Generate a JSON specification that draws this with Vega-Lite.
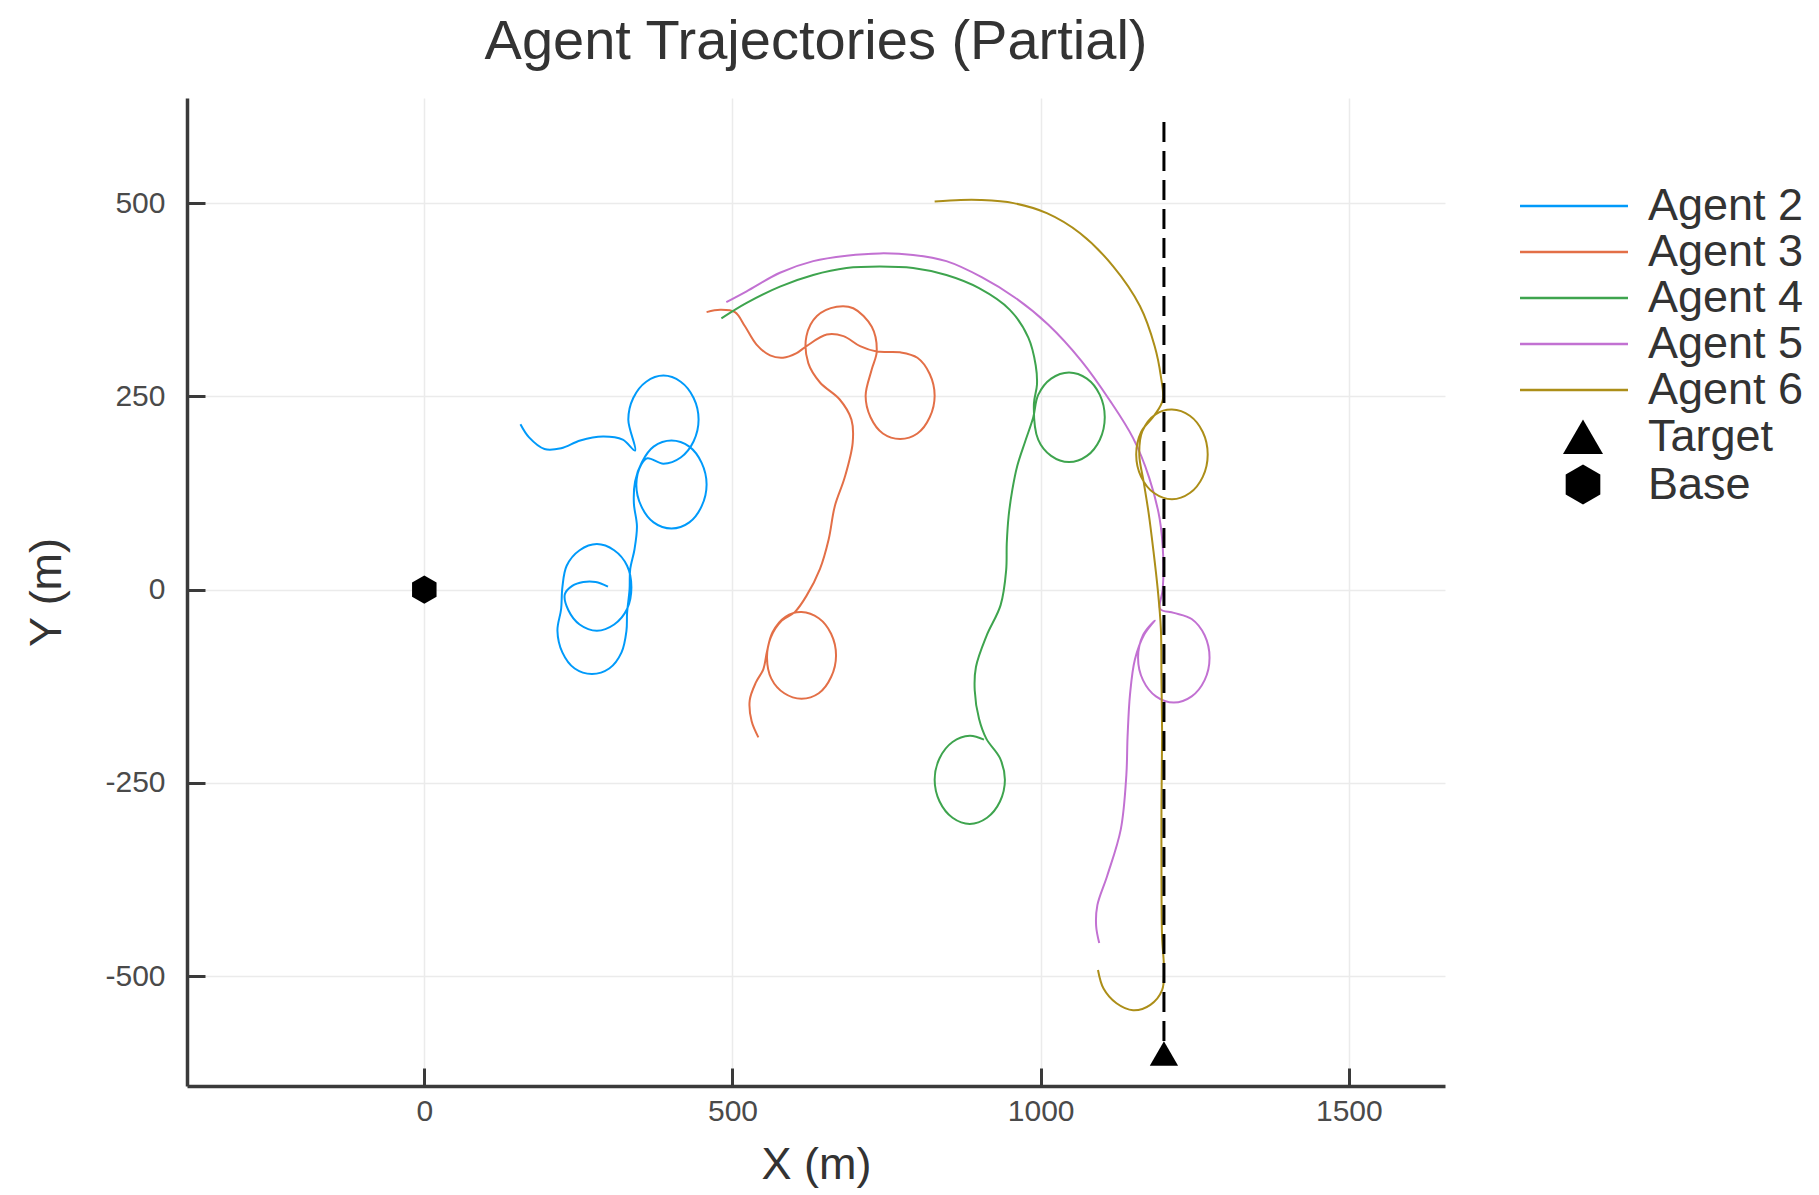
{
  "$schema": "https://vega.github.io/schema/vega-lite/v6.json",
  "width": 1258,
  "height": 988,
  "autosize": {"type": "none"},
  "padding": {"left": 187, "top": 98, "right": 374, "bottom": 109},
  "background": "white",
  "config": {"view": {"stroke": null}, "font": "Liberation Sans"},
  "title": {"text": "Agent Trajectories (Partial)", "fontSize": 56, "fontWeight": "normal", "color": "#333333", "anchor": "middle", "baseline": "alphabetic", "offset": -17, "frame": "group"},
  "datasets": {
    "agents": [
      {"agent":"Agent 2","i":1,"x":156,"y":214},{"agent":"Agent 2","i":2,"x":170,"y":197},{"agent":"Agent 2","i":3,"x":195,"y":182},{"agent":"Agent 2","i":4,"x":222,"y":183},{"agent":"Agent 2","i":5,"x":253,"y":193},{"agent":"Agent 2","i":6,"x":290,"y":198},{"agent":"Agent 2","i":7,"x":322,"y":194},{"agent":"Agent 2","i":8,"x":342,"y":180},
      {"agent":"Agent 2","i":9,"x":331,"y":220},{"agent":"Agent 2","i":10,"x":339,"y":248},{"agent":"Agent 2","i":11,"x":360,"y":269},{"agent":"Agent 2","i":12,"x":388,"y":277},{"agent":"Agent 2","i":13,"x":416,"y":269},{"agent":"Agent 2","i":14,"x":437,"y":248},{"agent":"Agent 2","i":15,"x":445,"y":220},{"agent":"Agent 2","i":16,"x":437,"y":192},{"agent":"Agent 2","i":17,"x":416,"y":171},{"agent":"Agent 2","i":18,"x":388,"y":163},{"agent":"Agent 2","i":19,"x":362,"y":170},{"agent":"Agent 2","i":20,"x":352,"y":162},
      {"agent":"Agent 2","i":21,"x":344,"y":136},{"agent":"Agent 2","i":22,"x":352,"y":108},{"agent":"Agent 2","i":23,"x":372,"y":87},{"agent":"Agent 2","i":24,"x":401,"y":79},{"agent":"Agent 2","i":25,"x":430,"y":87},{"agent":"Agent 2","i":26,"x":450,"y":108},{"agent":"Agent 2","i":27,"x":458,"y":136},{"agent":"Agent 2","i":28,"x":450,"y":164},{"agent":"Agent 2","i":29,"x":430,"y":185},{"agent":"Agent 2","i":30,"x":401,"y":193},{"agent":"Agent 2","i":31,"x":372,"y":185},{"agent":"Agent 2","i":32,"x":353,"y":165},
      {"agent":"Agent 2","i":33,"x":342,"y":140},{"agent":"Agent 2","i":34,"x":340,"y":112},{"agent":"Agent 2","i":35,"x":345,"y":82},{"agent":"Agent 2","i":36,"x":341,"y":52},{"agent":"Agent 2","i":37,"x":334,"y":26},{"agent":"Agent 2","i":38,"x":333,"y":0},{"agent":"Agent 2","i":39,"x":329,"y":-30},
      {"agent":"Agent 2","i":40,"x":328,"y":-53},{"agent":"Agent 2","i":41,"x":320,"y":-81},{"agent":"Agent 2","i":42,"x":300,"y":-102},{"agent":"Agent 2","i":43,"x":272,"y":-109},{"agent":"Agent 2","i":44,"x":244,"y":-102},{"agent":"Agent 2","i":45,"x":224,"y":-81},{"agent":"Agent 2","i":46,"x":216,"y":-53},{"agent":"Agent 2","i":47,"x":222,"y":-25},
      {"agent":"Agent 2","i":48,"x":224,"y":3},{"agent":"Agent 2","i":49,"x":231,"y":31},{"agent":"Agent 2","i":50,"x":252,"y":51},{"agent":"Agent 2","i":51,"x":280,"y":59},{"agent":"Agent 2","i":52,"x":308,"y":51},{"agent":"Agent 2","i":53,"x":329,"y":31},{"agent":"Agent 2","i":54,"x":336,"y":3},{"agent":"Agent 2","i":55,"x":329,"y":-25},{"agent":"Agent 2","i":56,"x":308,"y":-45},{"agent":"Agent 2","i":57,"x":280,"y":-53},{"agent":"Agent 2","i":58,"x":252,"y":-45},{"agent":"Agent 2","i":59,"x":234,"y":-27},{"agent":"Agent 2","i":60,"x":228,"y":-6},{"agent":"Agent 2","i":61,"x":240,"y":5},{"agent":"Agent 2","i":62,"x":258,"y":10},{"agent":"Agent 2","i":63,"x":278,"y":10},{"agent":"Agent 2","i":64,"x":298,"y":4},

      {"agent":"Agent 3","i":1,"x":458,"y":359},{"agent":"Agent 3","i":2,"x":480,"y":362},{"agent":"Agent 3","i":3,"x":504,"y":359},{"agent":"Agent 3","i":4,"x":520,"y":341},{"agent":"Agent 3","i":5,"x":539,"y":317},{"agent":"Agent 3","i":6,"x":561,"y":303},{"agent":"Agent 3","i":7,"x":582,"y":300},{"agent":"Agent 3","i":8,"x":604,"y":306},{"agent":"Agent 3","i":9,"x":620,"y":315},{"agent":"Agent 3","i":10,"x":653,"y":330},{"agent":"Agent 3","i":11,"x":680,"y":328},{"agent":"Agent 3","i":12,"x":707,"y":315},{"agent":"Agent 3","i":13,"x":734,"y":308},
      {"agent":"Agent 3","i":14,"x":772,"y":307},{"agent":"Agent 3","i":15,"x":800,"y":300},{"agent":"Agent 3","i":16,"x":820,"y":279},{"agent":"Agent 3","i":17,"x":828,"y":251},{"agent":"Agent 3","i":18,"x":820,"y":223},{"agent":"Agent 3","i":19,"x":800,"y":202},{"agent":"Agent 3","i":20,"x":772,"y":195},{"agent":"Agent 3","i":21,"x":744,"y":202},{"agent":"Agent 3","i":22,"x":724,"y":223},{"agent":"Agent 3","i":23,"x":716,"y":251},{"agent":"Agent 3","i":24,"x":726,"y":285},{"agent":"Agent 3","i":25,"x":734,"y":308},
      {"agent":"Agent 3","i":26,"x":726,"y":340},{"agent":"Agent 3","i":27,"x":696,"y":364},{"agent":"Agent 3","i":28,"x":669,"y":366},{"agent":"Agent 3","i":29,"x":637,"y":354},{"agent":"Agent 3","i":30,"x":620,"y":328},{"agent":"Agent 3","i":31,"x":623,"y":293},{"agent":"Agent 3","i":32,"x":642,"y":268},{"agent":"Agent 3","i":33,"x":674,"y":246},{"agent":"Agent 3","i":34,"x":693,"y":220},{"agent":"Agent 3","i":35,"x":695,"y":190},{"agent":"Agent 3","i":36,"x":682,"y":145},{"agent":"Agent 3","i":37,"x":666,"y":108},{"agent":"Agent 3","i":38,"x":656,"y":65},{"agent":"Agent 3","i":39,"x":642,"y":27},{"agent":"Agent 3","i":40,"x":620,"y":-8},{"agent":"Agent 3","i":41,"x":601,"y":-29},
      {"agent":"Agent 3","i":42,"x":580,"y":-40},{"agent":"Agent 3","i":43,"x":562,"y":-62},{"agent":"Agent 3","i":44,"x":556,"y":-88},{"agent":"Agent 3","i":45,"x":563,"y":-115},{"agent":"Agent 3","i":46,"x":584,"y":-134},{"agent":"Agent 3","i":47,"x":612,"y":-141},{"agent":"Agent 3","i":48,"x":640,"y":-134},{"agent":"Agent 3","i":49,"x":660,"y":-113},{"agent":"Agent 3","i":50,"x":668,"y":-85},{"agent":"Agent 3","i":51,"x":660,"y":-57},{"agent":"Agent 3","i":52,"x":640,"y":-37},{"agent":"Agent 3","i":53,"x":612,"y":-29},{"agent":"Agent 3","i":54,"x":586,"y":-35},{"agent":"Agent 3","i":55,"x":565,"y":-55},{"agent":"Agent 3","i":56,"x":556,"y":-80},{"agent":"Agent 3","i":57,"x":550,"y":-103},{"agent":"Agent 3","i":58,"x":538,"y":-120},{"agent":"Agent 3","i":59,"x":528,"y":-143},{"agent":"Agent 3","i":60,"x":531,"y":-170},{"agent":"Agent 3","i":61,"x":542,"y":-191},

      {"agent":"Agent 4","i":1,"x":482,"y":351},{"agent":"Agent 4","i":2,"x":523,"y":371},{"agent":"Agent 4","i":3,"x":577,"y":392},{"agent":"Agent 4","i":4,"x":631,"y":407},{"agent":"Agent 4","i":5,"x":685,"y":416},{"agent":"Agent 4","i":6,"x":739,"y":418},{"agent":"Agent 4","i":7,"x":793,"y":416},{"agent":"Agent 4","i":8,"x":847,"y":407},{"agent":"Agent 4","i":9,"x":900,"y":390},{"agent":"Agent 4","i":10,"x":950,"y":362},{"agent":"Agent 4","i":11,"x":980,"y":326},{"agent":"Agent 4","i":12,"x":992,"y":290},{"agent":"Agent 4","i":13,"x":994,"y":265},{"agent":"Agent 4","i":14,"x":989,"y":240},
      {"agent":"Agent 4","i":15,"x":996,"y":194},{"agent":"Agent 4","i":16,"x":1017,"y":173},{"agent":"Agent 4","i":17,"x":1046,"y":165},{"agent":"Agent 4","i":18,"x":1075,"y":173},{"agent":"Agent 4","i":19,"x":1096,"y":194},{"agent":"Agent 4","i":20,"x":1104,"y":223},{"agent":"Agent 4","i":21,"x":1096,"y":252},{"agent":"Agent 4","i":22,"x":1075,"y":273},{"agent":"Agent 4","i":23,"x":1046,"y":281},{"agent":"Agent 4","i":24,"x":1017,"y":273},{"agent":"Agent 4","i":25,"x":996,"y":252},{"agent":"Agent 4","i":26,"x":988,"y":223},
      {"agent":"Agent 4","i":27,"x":975,"y":192},{"agent":"Agent 4","i":28,"x":962,"y":160},{"agent":"Agent 4","i":29,"x":954,"y":129},{"agent":"Agent 4","i":30,"x":948,"y":95},{"agent":"Agent 4","i":31,"x":945,"y":60},{"agent":"Agent 4","i":32,"x":944,"y":25},{"agent":"Agent 4","i":33,"x":935,"y":-20},{"agent":"Agent 4","i":34,"x":912,"y":-60},{"agent":"Agent 4","i":35,"x":895,"y":-100},{"agent":"Agent 4","i":36,"x":893,"y":-130},{"agent":"Agent 4","i":37,"x":900,"y":-167},{"agent":"Agent 4","i":38,"x":912,"y":-193},
      {"agent":"Agent 4","i":39,"x":934,"y":-218},{"agent":"Agent 4","i":40,"x":942,"y":-246},{"agent":"Agent 4","i":41,"x":934,"y":-274},{"agent":"Agent 4","i":42,"x":913,"y":-295},{"agent":"Agent 4","i":43,"x":885,"y":-303},{"agent":"Agent 4","i":44,"x":857,"y":-295},{"agent":"Agent 4","i":45,"x":836,"y":-274},{"agent":"Agent 4","i":46,"x":828,"y":-246},{"agent":"Agent 4","i":47,"x":836,"y":-218},{"agent":"Agent 4","i":48,"x":857,"y":-197},{"agent":"Agent 4","i":49,"x":885,"y":-189},{"agent":"Agent 4","i":50,"x":908,"y":-194},

      {"agent":"Agent 5","i":1,"x":490,"y":372},{"agent":"Agent 5","i":2,"x":523,"y":386},{"agent":"Agent 5","i":3,"x":577,"y":410},{"agent":"Agent 5","i":4,"x":631,"y":425},{"agent":"Agent 5","i":5,"x":685,"y":432},{"agent":"Agent 5","i":6,"x":739,"y":435},{"agent":"Agent 5","i":7,"x":793,"y":433},{"agent":"Agent 5","i":8,"x":847,"y":425},{"agent":"Agent 5","i":9,"x":905,"y":404},{"agent":"Agent 5","i":10,"x":958,"y":378},{"agent":"Agent 5","i":11,"x":1012,"y":343},{"agent":"Agent 5","i":12,"x":1066,"y":296},{"agent":"Agent 5","i":13,"x":1112,"y":245},{"agent":"Agent 5","i":14,"x":1150,"y":196},{"agent":"Agent 5","i":15,"x":1176,"y":145},{"agent":"Agent 5","i":16,"x":1193,"y":92},{"agent":"Agent 5","i":17,"x":1199,"y":40},{"agent":"Agent 5","i":18,"x":1198,"y":0},{"agent":"Agent 5","i":19,"x":1194,"y":-25},
      {"agent":"Agent 5","i":20,"x":1216,"y":-30},{"agent":"Agent 5","i":21,"x":1245,"y":-38},{"agent":"Agent 5","i":22,"x":1266,"y":-59},{"agent":"Agent 5","i":23,"x":1274,"y":-88},{"agent":"Agent 5","i":24,"x":1266,"y":-117},{"agent":"Agent 5","i":25,"x":1245,"y":-138},{"agent":"Agent 5","i":26,"x":1216,"y":-146},{"agent":"Agent 5","i":27,"x":1187,"y":-138},{"agent":"Agent 5","i":28,"x":1166,"y":-117},{"agent":"Agent 5","i":29,"x":1158,"y":-88},{"agent":"Agent 5","i":30,"x":1166,"y":-59},{"agent":"Agent 5","i":31,"x":1185,"y":-40},
      {"agent":"Agent 5","i":32,"x":1168,"y":-58},{"agent":"Agent 5","i":33,"x":1153,"y":-90},{"agent":"Agent 5","i":34,"x":1145,"y":-135},{"agent":"Agent 5","i":35,"x":1141,"y":-190},{"agent":"Agent 5","i":36,"x":1139,"y":-240},{"agent":"Agent 5","i":37,"x":1130,"y":-310},{"agent":"Agent 5","i":38,"x":1108,"y":-370},{"agent":"Agent 5","i":39,"x":1092,"y":-408},{"agent":"Agent 5","i":40,"x":1090,"y":-435},{"agent":"Agent 5","i":41,"x":1095,"y":-457},

      {"agent":"Agent 6","i":1,"x":828,"y":502},{"agent":"Agent 6","i":2,"x":870,"y":504},{"agent":"Agent 6","i":3,"x":902,"y":504},{"agent":"Agent 6","i":4,"x":956,"y":500},{"agent":"Agent 6","i":5,"x":1010,"y":487},{"agent":"Agent 6","i":6,"x":1064,"y":461},{"agent":"Agent 6","i":7,"x":1118,"y":418},{"agent":"Agent 6","i":8,"x":1161,"y":367},{"agent":"Agent 6","i":9,"x":1185,"y":315},{"agent":"Agent 6","i":10,"x":1195,"y":276},{"agent":"Agent 6","i":11,"x":1198,"y":245},
      {"agent":"Agent 6","i":12,"x":1184,"y":225},{"agent":"Agent 6","i":13,"x":1163,"y":204},{"agent":"Agent 6","i":14,"x":1155,"y":175},{"agent":"Agent 6","i":15,"x":1163,"y":146},{"agent":"Agent 6","i":16,"x":1184,"y":125},{"agent":"Agent 6","i":17,"x":1213,"y":117},{"agent":"Agent 6","i":18,"x":1242,"y":125},{"agent":"Agent 6","i":19,"x":1263,"y":146},{"agent":"Agent 6","i":20,"x":1271,"y":175},{"agent":"Agent 6","i":21,"x":1263,"y":204},{"agent":"Agent 6","i":22,"x":1242,"y":225},{"agent":"Agent 6","i":23,"x":1213,"y":233},{"agent":"Agent 6","i":24,"x":1187,"y":227},
      {"agent":"Agent 6","i":25,"x":1165,"y":205},{"agent":"Agent 6","i":26,"x":1160,"y":175},{"agent":"Agent 6","i":27,"x":1167,"y":140},{"agent":"Agent 6","i":28,"x":1175,"y":100},{"agent":"Agent 6","i":29,"x":1183,"y":50},{"agent":"Agent 6","i":30,"x":1190,"y":0},{"agent":"Agent 6","i":31,"x":1195,"y":-50},{"agent":"Agent 6","i":32,"x":1196,"y":-115},{"agent":"Agent 6","i":33,"x":1197,"y":-190},{"agent":"Agent 6","i":34,"x":1196,"y":-280},{"agent":"Agent 6","i":35,"x":1196,"y":-370},{"agent":"Agent 6","i":36,"x":1197,"y":-450},{"agent":"Agent 6","i":37,"x":1200,"y":-490},{"agent":"Agent 6","i":38,"x":1197,"y":-518},{"agent":"Agent 6","i":39,"x":1178,"y":-537},{"agent":"Agent 6","i":40,"x":1150,"y":-544},{"agent":"Agent 6","i":41,"x":1123,"y":-535},{"agent":"Agent 6","i":42,"x":1102,"y":-516},{"agent":"Agent 6","i":43,"x":1093,"y":-492}
    ],
    "guide": [{"x": 1200, "y": 605, "y2": -600}],
    "markers": [{"label": "Target", "x": 1200, "y": -600}, {"label": "Base", "x": 0, "y": 0}]
  },
  "layer": [
    {
      "data": {"name": "agents"},
      "mark": {"type": "line", "strokeWidth": 2, "interpolate": "catmull-rom"},
      "encoding": {
        "x": {"field": "x", "type": "quantitative", "scale": {"domain": [-385, 1656], "nice": false, "zero": false},
          "axis": {"title": "X (m)", "values": [0, 500, 1000, 1500], "labelExpr": "'' + datum.value", "grid": true, "gridColor": "#ebebeb", "gridWidth": 1.5, "domainColor": "#3a3a3a", "domainWidth": 3.5, "tickColor": "#3a3a3a", "tickWidth": 3, "tickSize": -18, "labelFontSize": 30, "labelColor": "#4a4a4a", "labelPadding": 28.5, "labelFlush": false, "labelOverlap": false, "titleFontSize": 45, "titleFontWeight": "normal", "titleColor": "#333333", "titlePadding": 16}},
        "y": {"field": "y", "type": "quantitative", "scale": {"domain": [-642, 636], "nice": false, "zero": false},
          "axis": {"title": "Y (m)", "values": [-500, -250, 0, 250, 500], "labelExpr": "'' + datum.value", "grid": true, "gridColor": "#ebebeb", "gridWidth": 1.5, "domainColor": "#3a3a3a", "domainWidth": 3.5, "tickColor": "#3a3a3a", "tickWidth": 3, "tickSize": -18, "labelFontSize": 30, "labelColor": "#4a4a4a", "labelPadding": 40, "labelFlush": false, "labelOverlap": false, "titleFontSize": 45, "titleFontWeight": "normal", "titleColor": "#333333", "titlePadding": 35}},
        "color": {"field": "agent", "type": "nominal",
          "scale": {"domain": ["Agent 2", "Agent 3", "Agent 4", "Agent 5", "Agent 6"], "range": ["#009AFA", "#E36F47", "#3EA44E", "#C271D2", "#AC8E18"]},
          "legend": {"title": null, "orient": "none", "legendX": 1333, "legendY": 85.5, "symbolType": "M-2.571,0H2.571", "symbolSize": 1764, "symbolStrokeWidth": 2.5, "symbolOffset": 31.5, "labelFontSize": 45, "labelColor": "#333333", "labelOffset": 51.5, "rowPadding": 0, "padding": 0, "labelLimit": 0}},
        "order": {"field": "i", "type": "quantitative"}
      }
    },
    {
      "data": {"name": "guide"},
      "mark": {"type": "rule", "strokeDash": [20, 9], "strokeWidth": 3, "color": "black"},
      "encoding": {
        "x": {"field": "x", "type": "quantitative", "title": "X (m)"},
        "y": {"field": "y", "type": "quantitative", "title": "Y (m)"},
        "y2": {"field": "y2"}
      }
    },
    {
      "data": {"name": "markers"},
      "mark": {"type": "point", "filled": true, "opacity": 1, "size": 800, "color": "black"},
      "encoding": {
        "x": {"field": "x", "type": "quantitative", "title": "X (m)"},
        "y": {"field": "y", "type": "quantitative", "title": "Y (m)"},
        "shape": {"field": "label", "type": "nominal",
          "scale": {"domain": ["Target", "Base"], "range": ["triangle-up", "M0,-1L0.866,-0.5L0.866,0.5L0,1L-0.866,0.5L-0.866,-0.5Z"]},
          "legend": {"title": null, "orient": "none", "legendX": 1373.5, "legendY": 316.2, "symbolSize": 1600, "symbolFillColor": "black", "symbolStrokeColor": "black", "labelFontSize": 45, "labelColor": "#333333", "labelOffset": 42.5, "rowPadding": 0.8, "padding": 0, "labelLimit": 0}}
      }
    }
  ]
}
